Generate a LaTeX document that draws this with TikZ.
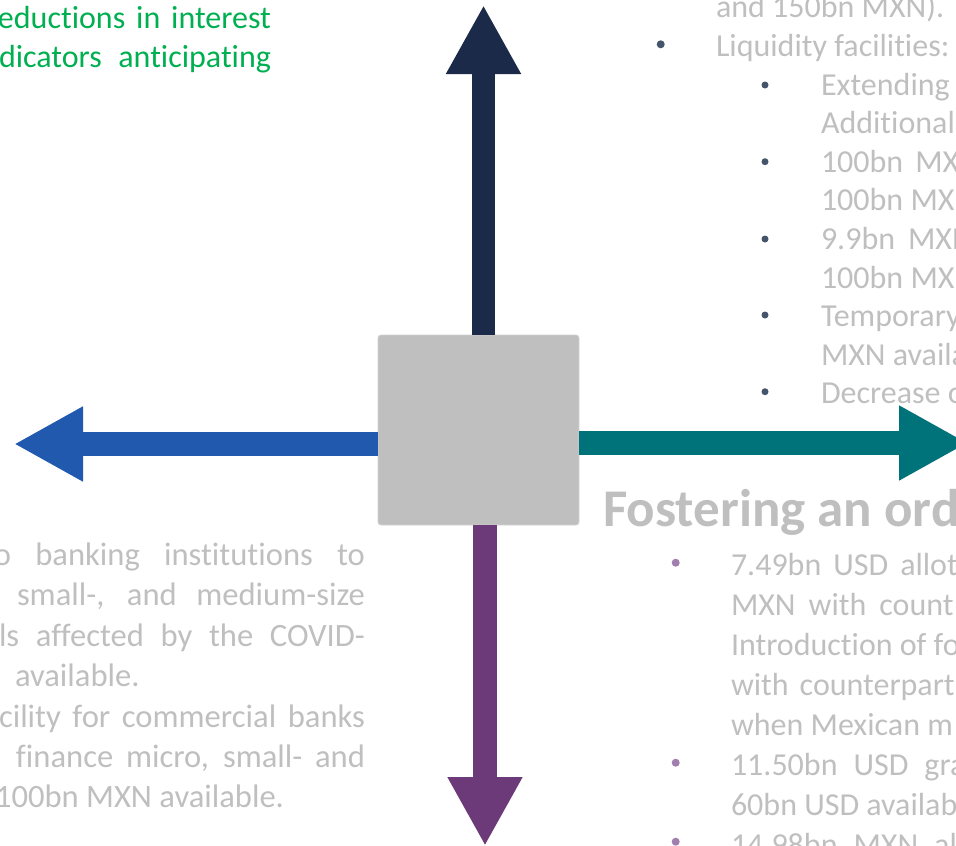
\documentclass[tikz,border=0pt]{standalone}
\usepackage{fontspec}
\setmainfont{Carlito}[Ligatures=NoCommon]
\usetikzlibrary{arrows.meta}

\definecolor{txtgray}{HTML}{BFBFBF}
\definecolor{hubgray}{HTML}{BFBFBF}
\definecolor{leadgreen}{HTML}{00B050}
\definecolor{navy}{HTML}{1B2A48}
\definecolor{royal}{HTML}{2159AE}
\definecolor{teal}{HTML}{00727A}
\definecolor{plum}{HTML}{6C3A78}
\definecolor{slatedot}{HTML}{44546A}
\definecolor{mauvedot}{HTML}{A07FAE}

\tikzset{
  body/.style={anchor=base west, inner sep=0pt, outer sep=0pt, text=txtgray,
               font=\fontsize{32}{38}\selectfont},
  bodyL/.style={body, font=\fontsize{32.6}{39}\selectfont},
  lead/.style={body, text=leadgreen},
  heading/.style={anchor=base west, inner sep=0pt, text=txtgray,
                  font=\bfseries\fontsize{53}{60}\selectfont},
  hub/.style={rectangle, fill=hubgray, draw=hubgray!70!white, line width=0.8pt,
              rounded corners=3pt, minimum width=201pt, minimum height=190pt, inner sep=0pt},
  blockarrow/.style={line width=23.5pt,
                     -{Triangle[length=69pt,width=70pt]}},
  dotA/.style={fill=slatedot},
  dotB/.style={fill=mauvedot}
}

\begin{document}
\begin{tikzpicture}[x=1pt,y=-1pt]
\useasboundingbox (0,0) rectangle (956,846);
\clip (0,0) rectangle (956,846);

% central hub and the four block arrows leaving it
\node[hub] (hub) at (478.5,430) {};
\coordinate (upTip) at (483.5,5);
\coordinate (downTip) at (485,846);
\coordinate (leftTip) at (14,444);
\coordinate (rightTip) at (968,443);
\draw[blockarrow, navy] (hub.north -| upTip) -- (upTip);
\draw[blockarrow, plum] (hub.south -| downTip) -- (downTip);
\draw[blockarrow, royal] (hub.west |- leftTip) -- (leftTip);
\draw[blockarrow, teal] (hub.east |- rightTip) -- (rightTip);

% upper left text
\node[lead] (g1) at (-2,28) {\makebox[273pt][s]{eductions in interest}};
\node[lead] (g2) at (-1,67) {\makebox[272pt][s]{dicators anticipating}};

% upper right list
\node[body] (t0) at (716,17.8) {and 150bn MXN).};
\fill[dotA] (660.7,44.3) circle (4pt);
\node[body] (t1) at (716,56.4) {Liquidity facilities:};
\fill[dotA] (765,85) circle (3.5pt);
\node[body] (t2) at (821,95) {Extending};
\node[body] (t3) at (821,133.6) {Additional};
\fill[dotA] (765,161.7) circle (3.5pt);
\node[body] (t4) at (821,172.2) {\spaceskip=12pt\relax 100bn MX};
\node[body] (t5) at (821,210.8) {100bn MXN};
\fill[dotA] (765,239) circle (3.5pt);
\node[body] (t6) at (821,249.4) {\spaceskip=13pt\relax 9.9bn MXN};
\node[body] (t7) at (821,288) {100bn MXN};
\fill[dotA] (765,315) circle (3.5pt);
\node[body] (t8) at (821,326.6) {Temporary};
\node[body] (t9) at (821,365.2) {MXN availa};
\fill[dotA] (765,391.7) circle (3.5pt);
\node[body] (t10) at (821,403.8) {Decrease o};

% lower right section
\node[heading] (head) at (603,526) {Fostering an ord};
\fill[dotB] (675.7,562.7) circle (4pt);
\node[body] (r1) at (731,575) {\spaceskip=12pt\relax 7.49bn USD allot};
\node[body] (r2) at (731,615) {\spaceskip=13pt\relax MXN with count};
\node[body] (r3) at (731,655) {Introduction of fo};
\node[body] (r4) at (731,695) {\spaceskip=11pt\relax with counterpart};
\node[body] (r5) at (731,735) {when Mexican m};
\fill[dotB] (675.7,762.7) circle (4pt);
\node[body] (r6) at (731,775) {\spaceskip=16pt\relax 11.50bn USD gra};
\node[body] (r7) at (731,815) {60bn USD availab};
\fill[dotB] (675.7,841.7) circle (4pt);
\node[body] (r8) at (731,855) {\spaceskip=16pt\relax 14.98bn MXN al};

% lower left paragraph
\node[bodyL] (l1) at (-6,565) {\makebox[371pt][s]{o banking institutions to}};
\node[bodyL] (l2) at (17,605.5) {\makebox[348pt][s]{small-, and medium-size}};
\node[bodyL] (l3) at (-1,646) {\makebox[366pt][s]{ls affected by the COVID-}};
\node[bodyL] (l4) at (15,686.5) {available.};
\node[bodyL] (l5) at (-1,727) {\makebox[366pt][s]{cility for commercial banks}};
\node[bodyL] (l6) at (16,767) {\makebox[349pt][s]{finance micro, small- and}};
\node[bodyL, anchor=base east] (l7) at (284,807.5) {100bn MXN available.};
\end{tikzpicture}
\end{document}
